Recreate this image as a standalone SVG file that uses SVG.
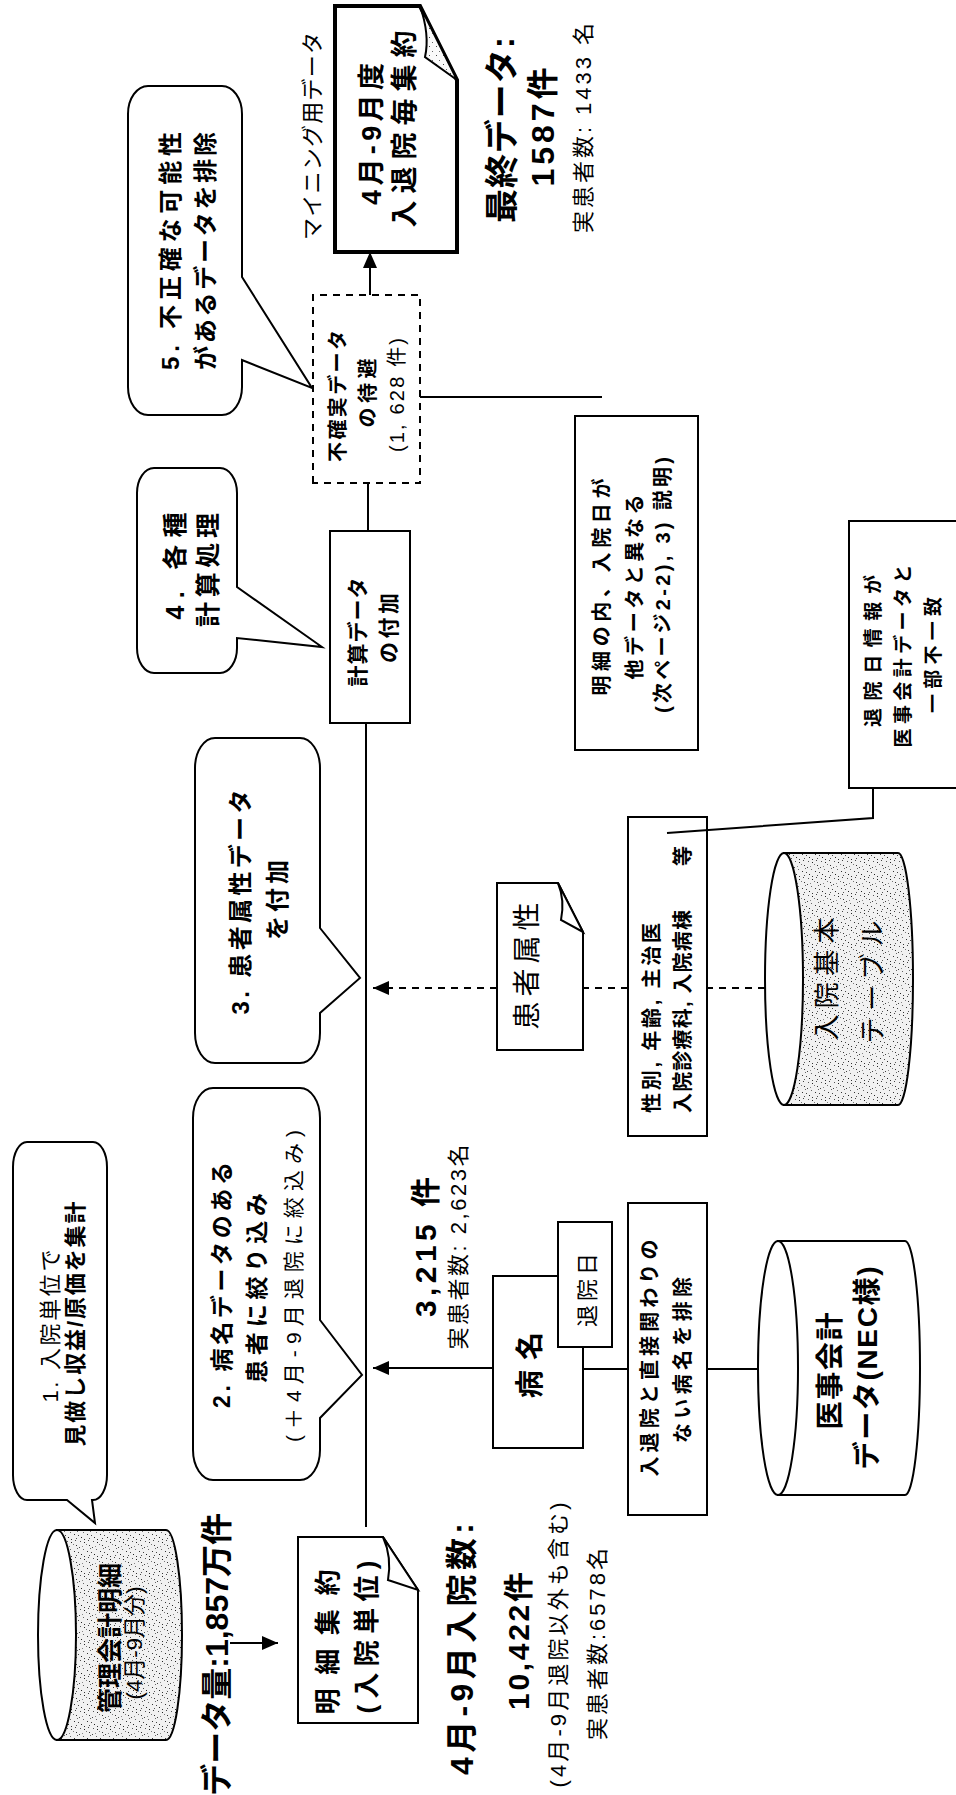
<svg xmlns="http://www.w3.org/2000/svg" width="956" height="1795" viewBox="0 0 956 1795">
<style>
.t{font-family:'Liberation Sans','Noto Sans CJK JP',sans-serif;fill:#000;text-anchor:middle;dominant-baseline:central}
.st{text-anchor:start}
.en{text-anchor:end}
.b{font-weight:bold}
.s{fill:#fff;stroke:#000;stroke-width:2}
.sp{fill:url(#speck);stroke:#000;stroke-width:2}
.ln{fill:none;stroke:#000;stroke-width:2}
.ds{stroke-dasharray:7 6}
</style>
<defs>
<marker id="ah" viewBox="0 0 16 14" refX="16" refY="7" markerWidth="16" markerHeight="14" markerUnits="userSpaceOnUse" orient="auto"><path d="M0,0 L16,7 L0,14 z" fill="#000"/></marker>
<pattern id="speck" width="17" height="13" patternUnits="userSpaceOnUse">
<rect width="17" height="13" fill="#f1f1f1"/>
<rect x="2" y="3" width="1" height="1" fill="#222"/>
<rect x="9" y="1" width="1" height="1" fill="#444"/>
<rect x="14" y="6" width="1" height="1" fill="#222"/>
<rect x="5" y="9" width="1" height="1" fill="#333"/>
<rect x="11" y="11" width="1" height="1" fill="#333"/>
<rect x="7" y="5" width="1" height="1" fill="#666"/>
<rect x="15" y="2" width="1" height="1" fill="#555"/>
<rect x="1" y="11" width="1" height="1" fill="#555"/>
<rect x="12" y="8" width="1" height="1" fill="#777"/>
<rect x="4" y="0" width="1" height="1" fill="#444"/>
<rect x="8" y="12" width="1" height="1" fill="#666"/>
<rect x="0" y="6" width="1" height="1" fill="#333"/>
<rect x="10" y="4" width="1" height="1" fill="#888"/>
<rect x="16" y="10" width="1" height="1" fill="#444"/>
</pattern>
<pattern id="speck2" width="9" height="7" patternUnits="userSpaceOnUse">
<rect width="9" height="7" fill="#fafafa"/>
<rect x="2" y="2" width="1" height="1" fill="#444"/>
<rect x="6" y="5" width="1" height="1" fill="#666"/>
</pattern>
</defs>
<g transform="translate(0,1795) rotate(-90)">

<!-- nodes -->
<g id="db-kanri">
<path class="sp" d="M55,57 V166 A105,16 0 0 0 265,166 V57 Z"/>
<ellipse cx="160" cy="57" rx="105" ry="19" fill="#fff" stroke="#000" stroke-width="2"/>
<text class="t b" x="157" y="110" font-size="25" textLength="150">管理会計明細</text>
<text class="t" x="152" y="134" font-size="22" textLength="113">(4月-9月分)</text>
</g>

<g id="bubble1">
<path class="s" d="M320,13 H628 A25,14 0 0 1 653,27 V93 A25,14 0 0 1 628,107 H320 A25,14 0 0 1 295,93 V92 L272,95 L295,67 V27 A25,14 0 0 1 320,13 Z"/>
<text class="t" x="469" y="50" font-size="22" textLength="153">1. 入院単位で</text>
<text class="t b" x="471" y="75" font-size="22" textLength="245">見做し収益/原価を集計</text>
</g>

<g id="label-volume">
<text class="t b en" x="282" y="217" font-size="32">データ量:1,857万件</text>
</g>

<g id="doc-meisai">
<path class="s" d="M72,298 H258 V383 L205,418 H72 Z"/>
<path class="s" d="M258,383 Q238,392 215,388 L205,418 Z"/>
<text class="t b" x="153" y="328" font-size="26" textLength="145">明細集約</text>
<text class="t b" x="158" y="367" font-size="26" textLength="153">(入院単位)</text>
</g>

<g id="label-admissions">
<text class="t b" x="146" y="462" font-size="32" textLength="252">4月-9月入院数:</text>
<text class="t b" x="154" y="518" font-size="30" textLength="138">10,422件</text>
<text class="t" x="150" y="558" font-size="22" textLength="285">(4月-9月退院以外も含む)</text>
<text class="t" x="151" y="597" font-size="22" textLength="192">実患者数:6578名</text>
</g>

<g id="bubble2">
<path class="s" d="M345,193 H677 A30,20 0 0 1 707,213 V300 A30,20 0 0 1 677,320 H475 L420,362 L377,320 H345 A30,20 0 0 1 315,300 V213 A30,20 0 0 1 345,193 Z"/>
<text class="t b" x="510" y="222" font-size="23" textLength="246">2. 病名データのある</text>
<text class="t b" x="507" y="257" font-size="23" textLength="190">患者に絞り込み</text>
<text class="t" x="509" y="293" font-size="21" textLength="312">(＋4月-9月退院に絞込み)</text>
</g>

<g id="label-3215">
<text class="t b" x="548" y="425" font-size="30" textLength="140">3,215 件</text>
<text class="t" x="548" y="458" font-size="22" textLength="205">実患者数: 2,623名</text>
</g>

<g id="box-byomei">
<rect class="s" x="347" y="493" width="172" height="90"/>
<text class="t b" x="430" y="530" font-size="28" textLength="66">病名</text>
</g>
<g id="box-taiinbi">
<rect class="s" x="448" y="558" width="125" height="54"/>
<text class="t" x="505" y="587" font-size="22" textLength="74">退院日</text>
</g>
<g id="box-exclude">
<rect class="s" x="280" y="628" width="312" height="79"/>
<text class="t b" x="437" y="650" font-size="20" textLength="237">入退院と直接関わりの</text>
<text class="t b" x="435" y="683" font-size="20" textLength="166">ない病名を排除</text>
</g>
<g id="db-iji">
<path class="s" d="M300,778 V905 A127,15 0 0 0 554,905 V778 Z"/>
<ellipse cx="427" cy="778" rx="127" ry="20" fill="#fff" stroke="#000" stroke-width="2"/>
<text class="t b" x="424" y="830" font-size="28" textLength="117">医事会計</text>
<text class="t b" x="427" y="867" font-size="28" textLength="203">データ(NEC様)</text>
</g>

<g id="bubble3">
<path class="s" d="M762,195 H1027 A30,20 0 0 1 1057,215 V300 A30,20 0 0 1 1027,320 H867 L817,360 L782,320 H762 A30,20 0 0 1 732,300 V215 A30,20 0 0 1 762,195 Z"/>
<text class="t b" x="893" y="240" font-size="24" textLength="225">3. 患者属性データ</text>
<text class="t b" x="895" y="277" font-size="24" textLength="80">を付加</text>
</g>

<g id="doc-attr">
<path class="s" d="M745,497 H912 V558 L863,583 H745 Z"/>
<path class="s" d="M912,558 Q895,565 875,561 L863,583 Z"/>
<text class="t" x="829" y="527" font-size="28" textLength="127">患者属性</text>
</g>
<g id="box-attr">
<rect class="s" x="659" y="628" width="319" height="79"/>
<text class="t b st" x="682" y="652" font-size="20" textLength="190">性別, 年齢, 主治医</text>
<text class="t b st" x="682" y="683" font-size="20" textLength="203">入院診療科, 入院病棟</text>
<text class="t b" x="939" y="683" font-size="20">等</text>
</g>
<g id="db-nyuin">
<path class="sp" d="M690,784 V898 A126,15 0 0 0 942,898 V784 Z"/>
<ellipse cx="816" cy="784" rx="126" ry="19" fill="#fff" stroke="#000" stroke-width="2"/>
<text class="t" x="816" y="827" font-size="26" textLength="123">入院基本</text>
<text class="t" x="813" y="873" font-size="26" textLength="123">テーブル</text>
</g>

<g id="bubble4">
<path class="s" d="M1147,137 H1302 A25,17 0 0 1 1327,154 V220 A25,17 0 0 1 1302,237 H1208 L1148,322 L1157,237 H1147 A25,17 0 0 1 1122,220 V154 A25,17 0 0 1 1147,137 Z"/>
<text class="t b" x="1229" y="175" font-size="25" textLength="107">4. 各種</text>
<text class="t b" x="1225" y="208" font-size="25" textLength="114">計算処理</text>
</g>
<g id="box-calc">
<rect class="s" x="1072" y="330" width="192" height="80"/>
<text class="t b" x="1163" y="357" font-size="21" textLength="109">計算データ</text>
<text class="t b" x="1167" y="388" font-size="21" textLength="70">の付加</text>
</g>
<g id="box-note1">
<rect class="s" x="1045" y="575" width="334" height="123"/>
<text class="t b" x="1208" y="602" font-size="20" textLength="217">明細の内、入院日が</text>
<text class="t b" x="1208" y="635" font-size="20" textLength="185">他データと異なる</text>
<text class="t b" x="1210" y="663" font-size="20" textLength="256">(次ページ2-2), 3)  説明)</text>
</g>
<g id="box-note2">
<rect class="s" x="1007" y="849" width="267" height="130"/>
<text class="t b" x="1144" y="873" font-size="19" textLength="152">退院日情報が</text>
<text class="t b" x="1139" y="903" font-size="19" textLength="183">医事会計データと</text>
<text class="t b" x="1140" y="933" font-size="19" textLength="116">一部不一致</text>
</g>

<g id="bubble5">
<path class="s" d="M1408,128 H1681 A28,20 0 0 1 1709,148 V222 A28,20 0 0 1 1681,242 H1518 L1407,312 L1435,242 H1408 A28,20 0 0 1 1380,222 V148 A28,20 0 0 1 1408,128 Z"/>
<text class="t b" x="1544" y="170" font-size="24" textLength="238">5. 不正確な可能性</text>
<text class="t b" x="1544" y="205" font-size="24" textLength="238">があるデータを排除</text>
</g>
<g id="box-uncertain">
<rect class="s ds" x="1312" y="313" width="188" height="107"/>
<text class="t b" x="1399" y="338" font-size="20" textLength="132">不確実データ</text>
<text class="t b" x="1402" y="368" font-size="20" textLength="69">の待避</text>
<text class="t" x="1400" y="397" font-size="20" textLength="114">(1, 628 件)</text>
</g>

<g id="doc-final">
<path fill="#fff" stroke="#000" stroke-width="4" d="M1543,335 H1789 V420 L1715,457 H1543 Z"/>
<path fill="url(#speck2)" stroke="#000" stroke-width="2" d="M1789,420 Q1760,430 1738,425 L1715,457 Z"/>
<text class="t b" x="1661" y="372" font-size="27" textLength="142">4月-9月度</text>
<text class="t b" x="1666" y="405" font-size="27" textLength="197">入退院毎集約</text>
</g>
<g id="label-mining">
<text class="t" x="1659" y="312" font-size="22" textLength="208">マイニング用データ</text>
</g>
<g id="label-final">
<text class="t b" x="1665" y="502" font-size="34" textLength="186">最終データ:</text>
<text class="t b" x="1668" y="543" font-size="32" textLength="119">1587件</text>
<text class="t" x="1667" y="583" font-size="22" textLength="210">実患者数: 1433 名</text>
</g>

<!-- connectors -->
<g id="connectors">
<line class="ln" x1="268" y1="366" x2="1072" y2="366"/>
<line class="ln" x1="1264" y1="368" x2="1312" y2="368"/>
<line class="ln" x1="152" y1="230" x2="152" y2="278" marker-end="url(#ah)"/>
<line class="ln" x1="427" y1="493" x2="427" y2="373" marker-end="url(#ah)"/>
<line class="ln" x1="426" y1="583" x2="426" y2="628"/>
<line class="ln" x1="426" y1="707" x2="426" y2="758"/>
<line class="ln ds" x1="807" y1="765" x2="807" y2="707"/>
<line class="ln ds" x1="807" y1="628" x2="807" y2="583"/>
<line class="ln ds" x1="807" y1="497" x2="807" y2="373" marker-end="url(#ah)"/>
<line class="ln" x1="1500" y1="370" x2="1543" y2="370" marker-end="url(#ah)"/>
<line class="ln" x1="1398" y1="420" x2="1398" y2="602"/>
<polyline class="ln" points="1007,873 977,873 962,667"/>
</g>
</g>
</svg>
